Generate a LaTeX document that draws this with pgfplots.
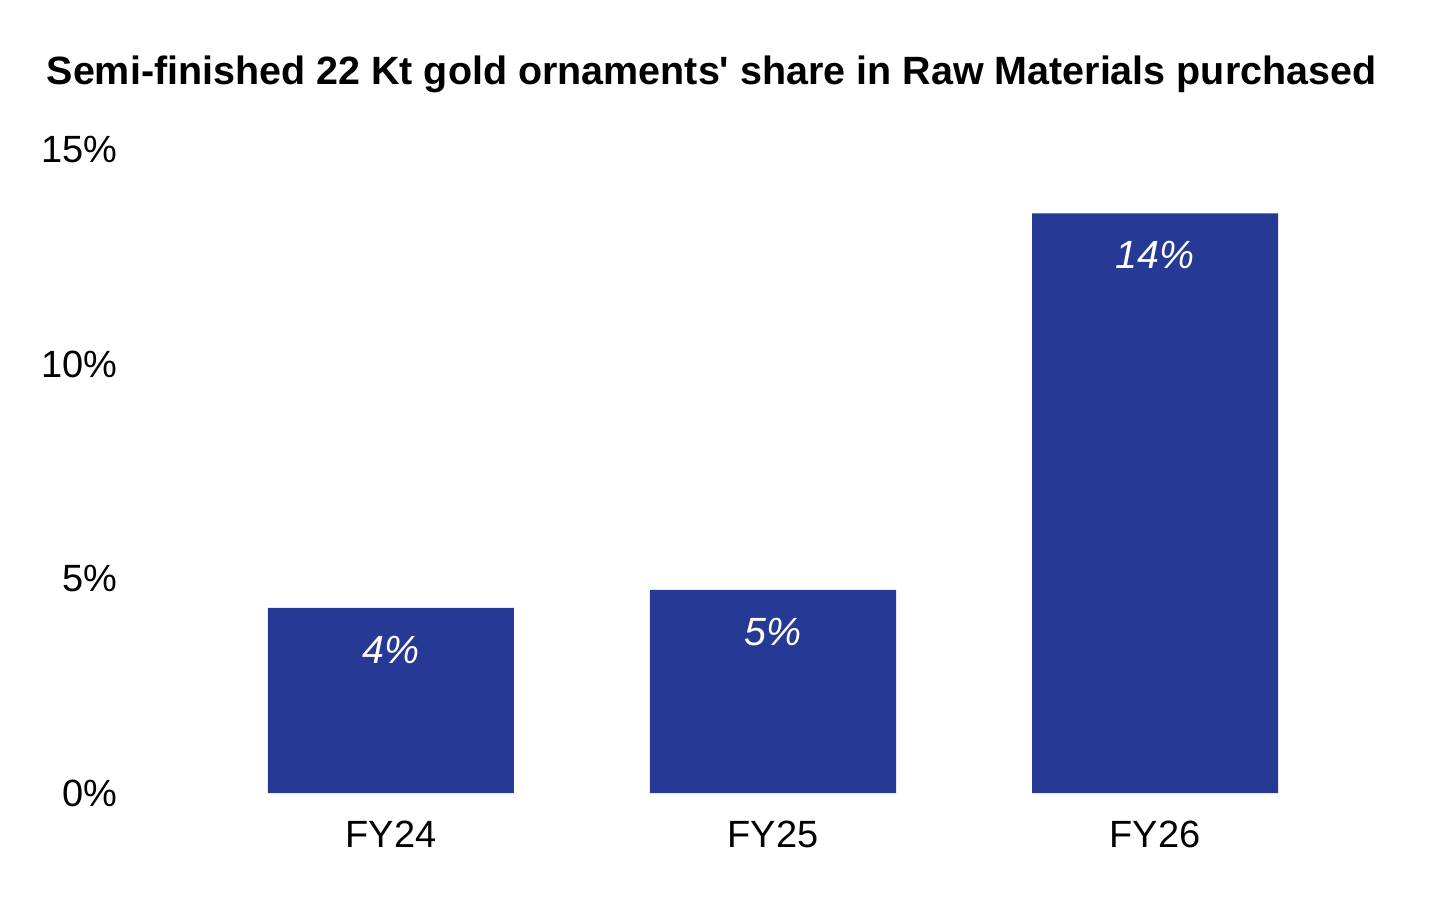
\documentclass[border=0pt]{standalone}
\usepackage{pgfplots}
\pgfplotsset{compat=1.18}
\usepackage{fontspec}
\setmainfont{Liberation Sans}
\definecolor{barblue}{RGB}{38,57,148}
\begin{document}
\begin{tikzpicture}
\useasboundingbox (-1.27cm,-1.10cm) rectangle (13.29cm,7.93cm);
\begin{axis}[
 at={(0,0)}, anchor=south west,
 scale only axis, width=12.19cm, height=6.43cm,
 xmin=-0.691, xmax=2.5, ymin=0, ymax=15,
 xtick={0,1,2}, xticklabels={FY24,FY25,FY26},
 ytick={0,5,10,15}, yticklabels={0\%,5\%,10\%,15\%},
 axis line style={draw=none}, major tick length=0pt,
 tick label style={font=\fontsize{10.8}{13}\selectfont},
 xticklabel style={yshift=-1.6mm},
 yticklabel style={xshift=0.3mm},
 ybar, bar width=2.46cm,
 nodes near coords, point meta=explicit symbolic,
 every node near coord/.append style={anchor=center, yshift=-4.2mm, text=white, font=\fontsize{11.2}{13}\selectfont\itshape},
 clip=false,
]
\addplot[fill=barblue, draw=none] coordinates {(0,4.32) [4\%] (1,4.74) [5\%] (2,13.52) [14\%]};
\end{axis}
\node[anchor=base west, inner sep=0, font=\fontsize{11.23}{13}\selectfont\bfseries] at (-0.81cm,7.08cm) {Semi-finished 22 Kt gold ornaments\textquotesingle{} share in Raw Materials purchased};
\end{tikzpicture}
\end{document}
